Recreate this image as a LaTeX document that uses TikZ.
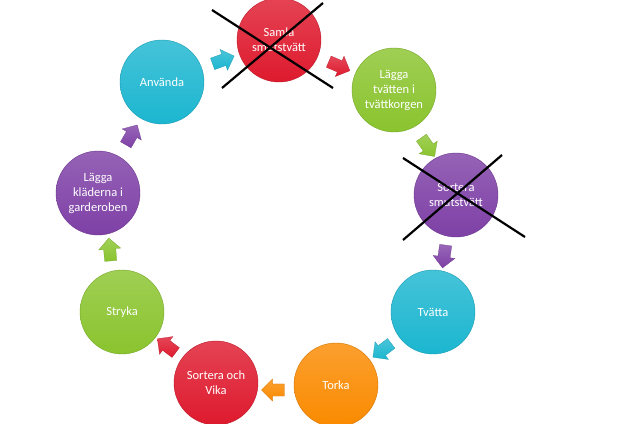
\documentclass[tikz,border=0pt]{standalone}
\usepackage{fontspec}
\setmainfont{Carlito}
\usetikzlibrary{shapes.arrows,calc}

\definecolor{cyclered}{RGB}{222,26,46}
\definecolor{cyclegreen}{RGB}{138,196,46}
\definecolor{cyclepurple}{RGB}{126,64,166}
\definecolor{cyclecyan}{RGB}{28,182,208}
\definecolor{cycleorange}{RGB}{250,138,0}

\tikzset{
  phase/.style={circle, minimum size=84pt, inner sep=0pt, text=white, align=center,
    font=\fontsize{12.5}{15}\selectfont, top color=#1!82!white, bottom color=#1,
    draw=#1!85!black, thin},
  turn/.style={single arrow, minimum height=23pt, inner xsep=0pt, inner ysep=6pt,
    single arrow head extend=5pt, top color=#1!80!white,
    bottom color=#1, draw=#1!80!black, very thin},
  cross/.style={line width=2.2pt, black}
}

\begin{document}
\begin{tikzpicture}[x=1pt, y=-1pt]
  \useasboundingbox (0,0) rectangle (629,423);

  % Circles of the cycle
  \node[phase=cyclered] (samla) at (279,40) {Samla\\smutstvätt};
  \node[phase=cyclegreen] (korg) at (394,90) {Lägga\\tvätten i\\tvättkorgen};
  \node[phase=cyclepurple] (sortera) at (456,195) {Sortera\\smutstvätt};
  \node[phase=cyclecyan] (tvatta) at (433,312) {Tvätta};
  \node[phase=cycleorange] (torka) at (336,385) {Torka};
  \node[phase=cyclered] (vika) at (216,383) {Sortera och\\Vika};
  \node[phase=cyclegreen] (stryka) at (122,312) {Stryka};
  \node[phase=cyclepurple] (garderob) at (98,193) {Lägga\\kläderna i\\garderoben};
  \node[phase=cyclecyan] (anvanda) at (162,82) {Använda};

  % Arrows between the circles
  \node[turn=cyclecyan, rotate=20] (a1) at ($(anvanda)!0.5!(samla)$) {};
  \node[turn=cyclered, rotate=-23] (a2) at ($(samla)!0.5!(korg)$) {};
  \node[turn=cyclegreen, rotate=-55] (a3) at ($(korg)!0.52!(sortera)$) {};
  \node[turn=cyclepurple, rotate=-98] (a4) at ($(sortera)!0.5!(tvatta)$) {};
  \node[turn=cyclecyan, rotate=-143] (a5) at ($(tvatta)!0.5!(torka)$) {};
  \node[turn=cycleorange, rotate=180] (a6) at ($(torka)!0.5!(vika)+(0,6)$) {};
  \node[turn=cyclered, rotate=143] (a7) at ($(vika)!0.5!(stryka)$) {};
  \node[turn=cyclegreen, rotate=95] (a8) at ($(stryka)!0.5!(garderob)$) {};
  \node[turn=cyclepurple, rotate=60] (a9) at ($(garderob)!0.5!(anvanda)$) {};

  % Crossed out steps
  \draw[cross] (212,10) -- (333,88);
  \draw[cross] (323,3) -- (222,88);
  \draw[cross] (403,158) -- (525,237);
  \draw[cross] (502,155) -- (403,240);
\end{tikzpicture}
\end{document}
